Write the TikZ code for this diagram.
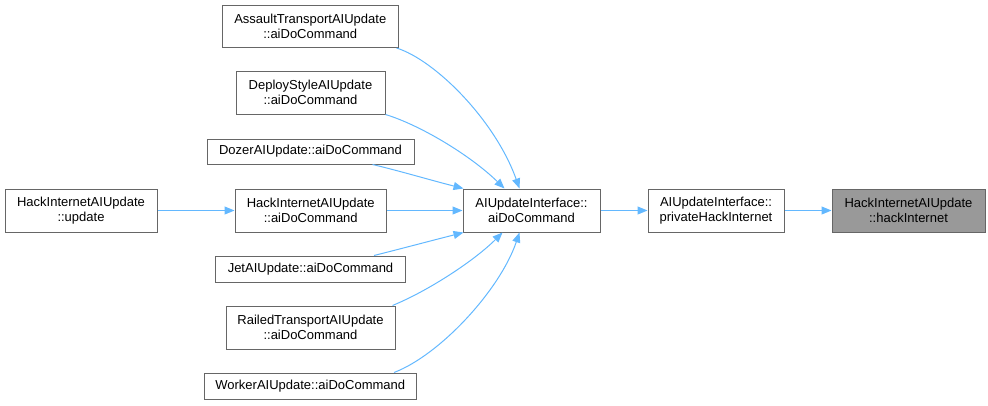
\documentclass[tikz,border=0pt]{standalone}
\usepackage{fontspec}
\setmainfont{Liberation Sans}
\usetikzlibrary{arrows.meta}
\definecolor{edgeblue}{HTML}{63B8FF}
\definecolor{boxborder}{HTML}{666666}
\definecolor{hlfill}{HTML}{999999}
\begin{document}
\begin{tikzpicture}[x=1pt,y=-1pt,
  fn/.style={draw=boxborder, line width=1pt, fill=white, inner sep=0pt, align=center,
    font=\fontsize{13}{15.5}\selectfont, text=black},
  hl/.style={fn, fill=hlfill},
  call/.style={draw=edgeblue, line width=1pt, -{Triangle[length=10pt,width=8pt]}}]
\useasboundingbox (0,0) rectangle (988,405);

\node[fn, minimum width=175.5pt, minimum height=42.5pt] (assault) at (310.25,26.25) {AssaultTransportAIUpdate\\::aiDoCommand};
\node[fn, minimum width=149pt, minimum height=43pt] (deploy) at (310.5,92.5) {DeployStyleAIUpdate\\::aiDoCommand};
\node[fn, minimum width=207pt, minimum height=25pt] (dozer) at (310.5,151.5) {DozerAIUpdate::aiDoCommand};
\node[fn, minimum width=152pt, minimum height=43pt] (update) at (81,210.5) {HackInternetAIUpdate\\::update};
\node[fn, minimum width=151.5pt, minimum height=43pt] (hackcmd) at (310.75,210.5) {HackInternetAIUpdate\\::aiDoCommand};
\node[fn, minimum width=190pt, minimum height=26pt] (jet) at (310.5,269) {JetAIUpdate::aiDoCommand};
\node[fn, minimum width=169pt, minimum height=43pt] (railed) at (310.5,327.5) {RailedTransportAIUpdate\\::aiDoCommand};
\node[fn, minimum width=212.5pt, minimum height=26pt] (worker) at (310.25,386) {WorkerAIUpdate::aiDoCommand};
\node[fn, minimum width=137pt, minimum height=43pt] (aicmd) at (531.5,210.5) {AIUpdateInterface::\\aiDoCommand};
\node[fn, minimum width=136pt, minimum height=43pt] (priv) at (716,210.5) {AIUpdateInterface::\\privateHackInternet};
\node[hl, minimum width=153pt, minimum height=43pt] (hack) at (908.5,210.5) {HackInternetAIUpdate\\::hackInternet};

\draw[call] ([xshift=-2pt]assault.south east) .. controls (435,60) and (495,120) .. ([xshift=57pt]aicmd.north west);
\draw[call] (deploy.south east) .. controls (420,125) and (470,155) .. ([xshift=42pt]aicmd.north west);
\draw[call] ([xshift=-42pt]dozer.south east) .. controls (400,171) and (430,180) .. ([xshift=1pt]aicmd.north west);
\draw[call] (hackcmd) -- (aicmd);
\draw[call] (update) -- (hackcmd);
\draw[call] ([xshift=-32pt]jet.north east) .. controls (400,249) and (430,241) .. ([xshift=1pt]aicmd.south west);
\draw[call] ([xshift=-3pt]railed.north east) .. controls (430,290) and (475,260) .. ([xshift=40pt]aicmd.south west);
\draw[call] ([xshift=-23pt]worker.north east) .. controls (440,355) and (500,290) .. ([xshift=57pt]aicmd.south west);
\draw[call] (aicmd) -- (priv);
\draw[call] (priv) -- (hack);
\end{tikzpicture}
\end{document}
